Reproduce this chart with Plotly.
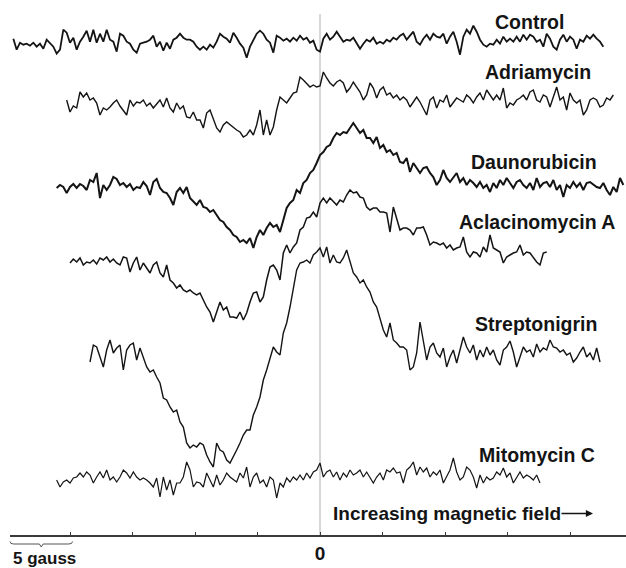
import numpy as np
import plotly.graph_objects as go

# ---------------- data (ESR first-derivative spectra, arbitrary units) ----------------
STEP_G = 4 / 15  # field step between samples, gauss

samples = ["Control", "Adriamycin", "Daunorubicin", "Aclacinomycin A", "Streptonigrin", "Mitomycin C"]

# first field value (gauss, relative to the 0 marker) of each trace
start_field = [-24.533, -20.267, -21.067, -20.0, -18.4, -21.067]

control = [
    3, -8, -1, -3, -2, -4, -1, -5, -2, -7, 2, -2, -5, -12, -8, 12, 9, -1, 4, -8,
    0, 5, 11, 0, 12, -1, 8, 0, 12, 2, 0, -10, 8, 6, 0, -2, -8, -11, -2, -1,
    0, 2, 6, -5, 0, -9, -1, -7, 2, 4, 8, 4, 2, 2, 0, -5, -8, -5, -8, -3,
    -6, 0, 8, 5, 3, -1, 9, 4, -2, -6, -16, -5, 2, 8, 11, 8, 2, -1, -11, 6,
    4, 1, 3, 0, 4, 1, 6, 2, 4, -1, 1, -8, -10,
    3, 8, 2, 5, 10, 5, 0, 2, 1, 4, -2, -7, -2, 2, 0, 4, -2, 0, -2, 2,
    0, 4, 2, 6, 8, 2, 6, 10, 0, -3, 3, 7, 2, 8, 5, 4, 8, -2, 5, 10,
    0, -13, 5, 12, 8, 16, 10, 2, -3, -5, -2, -3, 2, -2, 5, 0, 3, 0, 5, 0,
    7, 2, 7, 5, 0, 2, -5, 8, 3, -5, -8, 2, 7, 0, 5, 2, -7, 2, 0, 6,
    3, 7, 3, 0, -5,
]

adriamycin = [
    0, -12, -6, -8, 8, 3, 7, 0, 2, -3, -15, -8, -10, -7, -3, 0, -6, -10, -15, 0,
    -6, -2, -3, 0, -6, -3, -8, -4, 0, -7, 2, -8, -12, -3, -9, -6, -17, -18, -12, -20,
    -20, -28, -13, -10, -20, -28, -32, -25, -22, -25, -28, -30, -32, -37, -35, -30, -35, -25, -10, -35,
    -20, -35, -27, -10, 3, 0, -3, 2, 7, 8, 23, 20, 17,
    13, 15, 13, 14, 28, 22, 17, 14, 18, 20, 17, 8, 12, 18, 13, 8, 0, 5, 17, 12,
    2, 10, 13, 5, 7, 2, 5, 0, 3, 0, -7, -2, 3, -2, -8, -15, 0, 3, -8, 0,
    -2, 5, -7, -3, 2, 0, -2, 5, 2, -3, 3, 7, 0, 10, 5, 0, 5, 0, 12, -8,
    -3, -5, 0, 2, 5, 0, 8, 10, 0, -2, 5, 3, -7, 3, 13, 0, 3, -10, 7, 0,
    -3, 0, -15, -10, 0, 2, 0, -7, -5, 2, 0, 5,
]

daunorubicin = [
    -1, 2, 0, -6, 0, 3, -1, 3, 1, -3, 7, 5, 14, -11, 2, -3, 2, 10, 8, 2,
    4, 0, 3, -3, 0, -1, 5, 1, -8, 5, 8, -1, -5, -6, -11, -18, -5, -1, -6, 0,
    -11, -15, -18, -13, -20, -21, -25, -23, -28, -33, -35, -40, -43, -48, -50, -55, -53, -56, -51, -61,
    -50, -43, -48, -41, -36, -40, -38, -45, -33, -21,
    -16, -13, -3, -6, 4, 7, 14, 17, 24, 32, 35, 40, 42, 49, 54, 52, 55, 54, 59, 64,
    59, 54, 57, 49, 49, 44, 50, 39, 42, 35, 37, 32, 34, 25, 24, 29, 15, 24, 19, 14,
    19, 20, 14, 10, 2,
    7, 17, 9, 5, 10, 14, 5, 9, 2, 7, 4, 0, 5, -1, 2, -5, 4, -1, 7, 2,
    9, 4, -1, 5, 7, 2, -1, 4, -3, 9, 0, 4, 5, 0, 7, -3, 2, -10, 2, -1,
    5, 0, 4, -3, 4, 5, 2, 0, -1, 4, -3, -8, 0, -5, 9, 2,
]

aclacinomycin_a = [
    -3, 1, -2, 2, -5, -2, -3, 0, -4, 2, 0, 3, -2, 1, -3, -5, 3, 2, -12, -3,
    3, -10, -3, -8, -13, -5, -2, -13, -17, -5, -20, -23, -28, -25, -30, -32, -30, -33, -35, -33,
    -40, -47, -52, -62, -52, -42, -50, -47, -57, -57, -58, -52, -60, -53, -42, -33, -32, -42, -37, -20,
    -7, -5, -10, -20, 7, 15,
    7, 13, 17, 30, 33, 42, 43, 48, 43, 57, 62, 57, 62, 58, 55, 60, 58, 65, 70, 67,
    68, 63, 62, 53, 50, 52, 52, 48, 48, 47, 28, 53, 40, 30, 32, 32, 30, 25, 32, 32,
    33, 25, 15, 18, 17,
    15, 17, 12, 15, 10, 12, 13, 23, 8, 3, 8, 7, 3, 13, 8, 25, 12, 10, 8, -3,
    3, 5, 7, 8, 15, 5, 8, 7, 2, -2, -5, 7, 8,
]

streptonigrin = [
    -9, 8, 6, -4, -14, 3, 13, 0, 5, 8, -17, 3, 8, 10, -7, 5, -4, -14, -19, -17,
    -24, -30, -45, -47, -54, -59, -57, -69, -74, -90, -95, -92, -94, -90, -92, -102, -109, -114, -90, -97,
    -99, -107, -110, -104, -97, -90, -82, -77, -77, -62, -54, -44, -27, -17, -4, 6, 1, -2, 20, 30,
    46, 63, 83, 90, 91, 93, 90, 98, 101, 105, 96, 106, 90, 98, 91, 90, 95, 103, 90, 80,
    76, 70, 73, 66, 61, 51, 46, 33, 23, 16, 30, 13, 10, 6, 6, 3, -17, -14, 0, 31,
    13, -7, 6, 10, 0,
    -4, 5, -14, -4, 3, -10, 3, 16, 6, 0, 8, -7, 3, -4, 6, -2, 3, -7, -12, 3,
    6, 12, 1, -14, -4, 6, 1, 3, -4, 9, 1, 5, 3, 13, 6, 5, 1, 3, -2, 0,
    -9, -5, 1, 6, -4, 0, -7, 5, -9,
]

mitomycin_c = [
    0, -7, -2, 0, -3, 2, 3, 7, 3, 8, 5, -3, 3, 8, 2, 10, 0, 3, -2, 3,
    10, 7, 2, 8, 3, 0, 2, 0, -3, -7, 2, -17, 3, -10, 0, -15, -3, -3, 3, 18,
    10, -7, -2, -3, -7, 7, 0, -7, 5, -5, 0, 7, 3, 0, -2, 7, 2, 13, -7, 3,
    7, -3, 0, -7, 3, 0, -18, -3, -7, 2, -2, 3, 0, 5, 0, 7, 2, 8, 10, 17,
    3, 8, 10, 3, 8, 0, 7, 3, 10, 5, 7, 10, 3, 8, 2, -3, 3, 7, 0, 10,
    8, 12, 7, 8, -3, 10, 13, 18, 5, 13, 8, 12, 3, 8, 5, 10, -3, 3, 10, 22,
    8, 0, 3, 13, 10, 3, -8, 5, -3, 3, 0, 2, 8, 5, 12, 3, 7, -3, 3, 8,
    2, 5, 3, 0, 5, -3,
]

series = [control, adriamycin, daunorubicin, aclacinomycin_a, streptonigrin, mitomycin_c]

# ---------------- layout / style ----------------
W, H = 626, 568
ML, MB = 10, 33
PX_PER_G = 12.5
x_range = [-(320 - ML) / PX_PER_G, (W - 320) / PX_PER_G]
y_top = H - MB  # data units == pixels vertically

trace_offset = [493.3, 435, 348, 275, 182, 55]          # vertical stacking of the spectra
line_widths = [1.8, 1.4, 2.0, 1.5, 1.4, 1.2]
label_pos = [(13.84, 513.5), (13.04, 463.3), (11.95, 373), (10.93, 313.3), (12.27, 211), (12.53, 80)]

FONT = "Liberation Sans, Arial, Helvetica, sans-serif"
INK = "#141414"

fig = go.Figure()
for name, vals, x0, off, lw in zip(samples, series, start_field, trace_offset, line_widths):
    v = np.asarray(vals, dtype=float)
    x = x0 + STEP_G * np.arange(len(v))
    fig.add_trace(go.Scatter(x=x, y=off + v, mode="lines", name=name,
                             line=dict(color=INK, width=lw), hoverinfo="skip"))

annotations = []
for name, (lx, ly) in zip(samples, label_pos):
    annotations.append(dict(x=lx, y=ly, xref="x", yref="y", text=name, showarrow=False,
                            xanchor="left", yanchor="middle",
                            font=dict(family=FONT, size=19.5, color=INK, weight="bold")))

annotations.append(dict(x=0.88, y=21.5, xref="x", yref="y", text="Increasing magnetic field",
                        showarrow=False, xanchor="left", yanchor="middle",
                        font=dict(family=FONT, size=19, color=INK, weight="bold")))
annotations.append(dict(x=21.84, y=21.5, xref="x", yref="y", text="", showarrow=True,
                        ax=-33, ay=0, arrowhead=2, arrowsize=1.1, arrowwidth=1.3, arrowcolor=INK))

# scale bar (5 gauss) below the axis, in paper units
span = x_range[1] - x_range[0]
sb = 5 / span
def py(px):
    return (y_top - px) / y_top
yb, yt, yd = py(544), py(541.5), py(547)
dx = 0.006
bracket = (f"M 0,{yt} Q 0,{yb} {dx},{yb} L {sb/2-dx/2},{yb} L {sb/2},{yd} "
           f"L {sb/2+dx/2},{yb} L {sb-dx},{yb} Q {sb},{yb} {sb},{yt}")
annotations.append(dict(x=0.002, y=py(558.5), xref="paper", yref="paper", text="5 gauss",
                        showarrow=False, xanchor="left", yanchor="middle",
                        font=dict(family=FONT, size=17, color=INK, weight="bold")))

shapes = [
    dict(type="line", xref="x", yref="y", x0=0, x1=0, y0=0, y1=y_top - 14,
         line=dict(color="#b0b0b0", width=1), layer="below"),
    dict(type="path", xref="paper", yref="paper", path=bracket,
         line=dict(color="#555", width=1)),
]

fig.update_layout(
    width=W, height=H,
    margin=dict(l=ML, r=0, t=0, b=MB, pad=0),
    paper_bgcolor="white", plot_bgcolor="white",
    showlegend=False,
    annotations=annotations,
    shapes=shapes,
    xaxis=dict(range=x_range, showgrid=False, zeroline=False,
               showline=True, linecolor="#3a3a3a", linewidth=1.6,
               ticks="inside", ticklen=3, tickwidth=1, tickcolor="#3a3a3a",
               tickvals=[-20, -15, -10, -5, 0, 5, 10, 15, 20],
               ticktext=["", "", "", "", "0", "", "", "", ""],
               tickfont=dict(family=FONT, size=19, color=INK, weight="bold"),
               fixedrange=True),
    yaxis=dict(range=[0, y_top], visible=False, fixedrange=True),
)

fig.write_html("out.html",
               config={"displayModeBar": False},
               post_script="document.body.style.margin='0px';document.body.style.overflow='hidden';")
